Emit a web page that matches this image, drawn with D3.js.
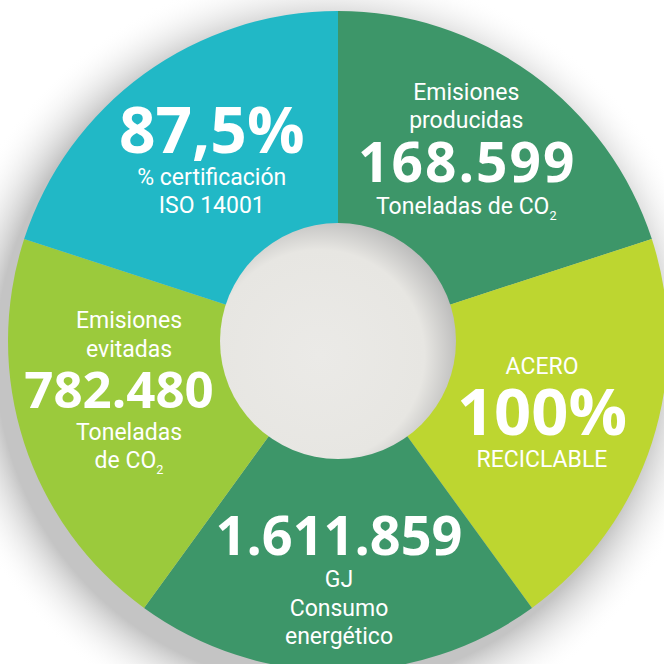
<!DOCTYPE html>
<html>
<head>
<meta charset="utf-8">
<script src="https://cdn.jsdelivr.net/npm/d3@7"></script>
<style>
  html, body { margin: 0; padding: 0; background: #fff; }
  svg { display: block; }
  .small { font-family: Roboto, "Open Sans", sans-serif; font-weight: 400; fill: #fff; }
  .big { font-family: "Open Sans", Roboto, sans-serif; font-weight: 700; fill: #fff; }
</style>
</head>
<body>
<svg id="chart" width="664" height="664"></svg>
<script>
// five equal segments, clockwise from 12 o'clock
var segments = ["producidas", "acero", "consumo", "evitadas", "certificacion"];
var shares = [1, 1, 1, 1, 1];
var figures = ["168.599", "100%", "1.611.859", "782.480", "87,5%"];
var linesAbove = [["Emisiones", "producidas"], ["ACERO"], [], ["Emisiones", "evitadas"], []];
var linesBelow = [["Toneladas de CO_2"], ["RECICLABLE"], ["GJ", "Consumo", "energético"], ["Toneladas", "de CO_2"], ["% certificación", "ISO 14001"]];
var colours = ["#3d9669", "#bdd630", "#3d9669", "#9bca3c", "#21b8c6"];

var W = 664, H = 664;
var cx = 338, cy = 341, outerR = 330, innerR = 118;

// per segment typography / nudges (layout only)
var bigSize = [55, 65, 54, 51, 64];
var bigSpacing = [2, 0, 0, 0, 0];
var bigShift = [0, 0, 0, -10, 0];
var nudge = [[-4, 23], [-10, 24], [1, -11], [5, -3], [6, -6]];
var smallSize = 23, lineGap = 28.5, belowGap = 32;

var svg = d3.select("#chart");
var defs = svg.append("defs");

var shadow = defs.append("radialGradient").attr("id", "shadow")
  .attr("gradientUnits", "userSpaceOnUse")
  .attr("cx", cx - 12).attr("cy", cy + 16).attr("r", outerR + 60);
shadow.append("stop").attr("offset", 0).attr("stop-color", "#c4c4c4");
shadow.append("stop").attr("offset", outerR / (outerR + 60)).attr("stop-color", "#c4c4c4");
shadow.append("stop").attr("offset", 1).attr("stop-color", "#ffffff").attr("stop-opacity", 0);

var hole = defs.append("radialGradient").attr("id", "hole")
  .attr("cx", 0.42).attr("cy", 0.56).attr("r", 0.62);
hole.append("stop").attr("offset", 0).attr("stop-color", "#ebeae7");
hole.append("stop").attr("offset", 0.72).attr("stop-color", "#e7e6e2");
hole.append("stop").attr("offset", 1).attr("stop-color", "#b6b6b6");

svg.append("circle")
  .attr("cx", cx - 12).attr("cy", cy + 16).attr("r", outerR + 60)
  .style("fill", "url(#shadow)");

var g = svg.append("g").attr("transform", "translate(" + cx + "," + cy + ")");

var pie = d3.pie().sort(null).value(function(d){ return d; });
var arcs = pie(shares);
var arc = d3.arc().innerRadius(innerR - 2).outerRadius(outerR);
var labelArc = d3.arc().innerRadius(225).outerRadius(225);

g.selectAll("path.segment")
  .data(arcs)
  .enter().append("path")
  .attr("class", "segment")
  .attr("d", arc)
  .style("fill", function(d, i){ return colours[i]; });

g.append("circle").attr("r", innerR).style("fill", "url(#hole)");

function addLine(parent, str, y, size){
  var t = parent.append("text")
    .attr("class", "small")
    .attr("text-anchor", "middle")
    .attr("y", y)
    .style("font-size", size + "px");
  var parts = str.split("_");
  t.append("tspan").text(parts[0]);
  if (parts.length > 1){
    t.append("tspan").attr("dy", 6).style("font-size", (size * 0.55) + "px").text(parts[1]);
  }
  return t;
}

arcs.forEach(function(d, i){
  var c = labelArc.centroid(d);
  var block = g.append("g")
    .attr("transform", "translate(" + (c[0] + nudge[i][0]) + "," + (c[1] + nudge[i][1]) + ")");
  // baseline of the big figure is y = 0
  var above = linesAbove[i];
  var topGap = bigSize[i] * 0.72 + 14;
  above.forEach(function(s, k){
    addLine(block, s, -topGap - (above.length - 1 - k) * lineGap, smallSize);
  });
  block.append("text")
    .attr("class", "big")
    .attr("text-anchor", "middle")
    .attr("x", bigShift[i] + bigSpacing[i] / 2)
    .style("font-size", bigSize[i] + "px")
    .style("letter-spacing", bigSpacing[i] + "px")
    .text(figures[i]);
  linesBelow[i].forEach(function(s, k){
    addLine(block, s, belowGap + k * lineGap, smallSize);
  });
});
</script>
</body>
</html>
